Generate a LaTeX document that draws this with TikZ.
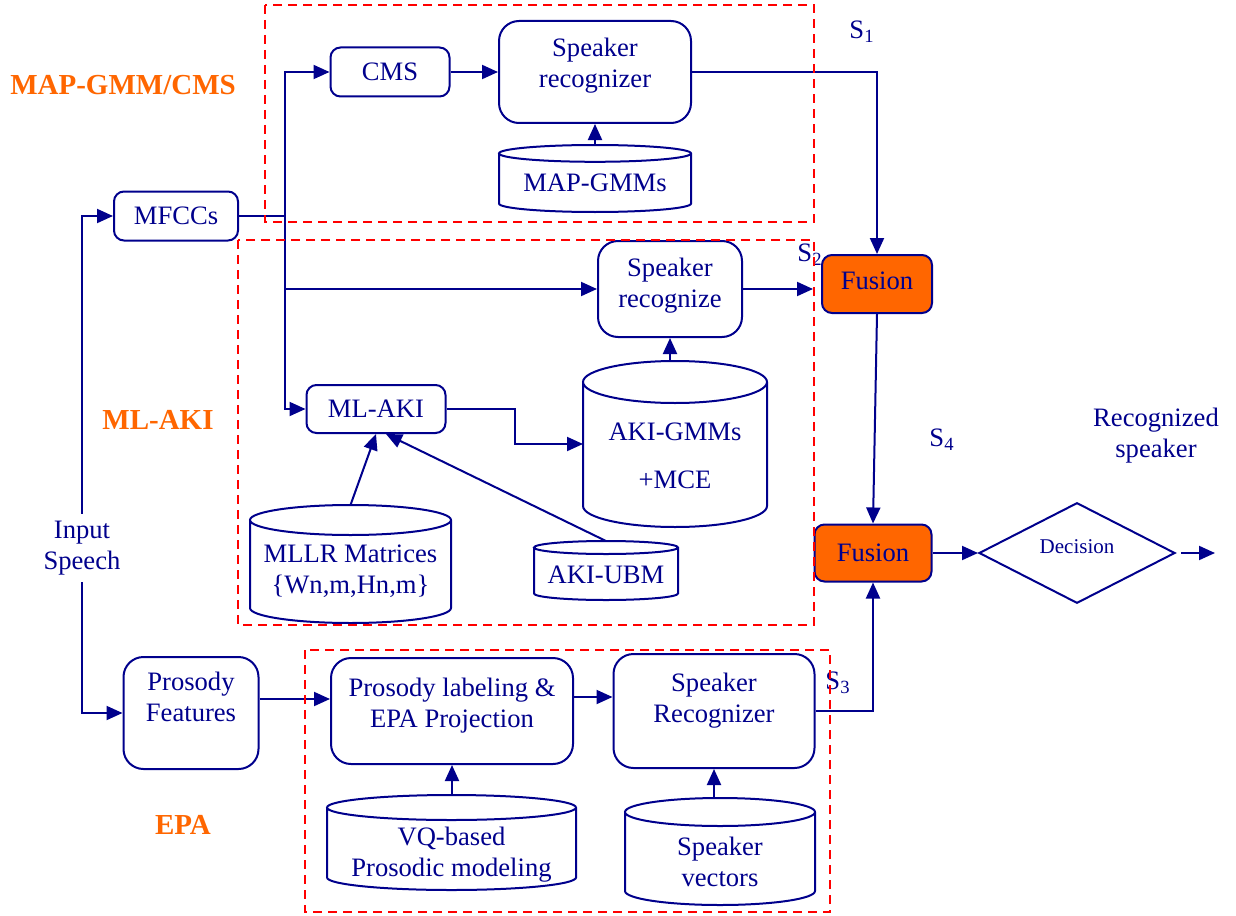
\documentclass[tikz,border=0pt]{standalone}
\usepackage{fontspec}
\setmainfont{Liberation Serif}
\usetikzlibrary{positioning,shapes.geometric,arrows.meta,calc}

\definecolor{navy}{RGB}{0,0,140}
\definecolor{fuse}{RGB}{255,102,0}

% database drum round a plain node: name, radius of the end ellipses
\newcommand{\dbshape}[2]{%
  \draw[dbline] let \p1=(#1.north west), \p2=(#1.south east) in
    (\x1,{\y1-#2}) -- (\x1,{\y2+#2})
    arc[start angle=180, end angle=360, x radius={(\x2-\x1)/2}, y radius=#2]
    -- (\x2,{\y1-#2})
    arc[start angle=0, end angle=360, x radius={(\x2-\x1)/2}, y radius=#2];}

\begin{document}
\begin{tikzpicture}[x=0.5pt,y=-0.5pt,on grid,
        >={Triangle[length=8pt,width=7pt]},
        every node/.style={text=navy,font=\fontsize{13.3}{15.5}\selectfont},
        blk/.style={draw=navy,line width=1pt,rounded corners=5pt,align=center,inner sep=0pt},
        bigblk/.style={blk,rounded corners=10pt},
        fusion/.style={blk,fill=fuse},
        db/.style={inner sep=0pt,outer sep=0pt,align=center},
        dbline/.style={draw=navy,line width=1pt},
        decide/.style={diamond,draw=navy,line width=1pt,inner sep=0pt,font=\fontsize{10.5}{12}\selectfont},
        tag/.style={text=fuse,font=\bfseries\fontsize{14.5}{17}\selectfont},
        link/.style={draw=navy,line width=1pt,->},
        grp/.style={draw=red,line width=1pt,dash pattern=on 4.5pt off 3pt}]
    \useasboundingbox (0,0) rectangle (1236,915);

    % feature extraction
    \node (inp) at (82,548) [align=center] {Input\\Speech};
    \node[blk, minimum width=62pt, minimum height=24.5pt] (mfcc) at (176,216) {MFCCs};
    \node[bigblk, minimum width=67.5pt, minimum height=56pt, text depth=15.9pt] (prosf) at (191,713) {Prosody\\Features};

    % MAP-GMM/CMS branch
    \node[blk, minimum width=59.5pt, minimum height=24.5pt] (cms) at (390,72) {CMS};
    \node[bigblk, minimum width=96pt, minimum height=51pt, text depth=8.9pt] (spk1) [right=102.5pt of cms] {Speaker\\recognizer};
    \node[db, minimum width=96pt, minimum height=33.5pt, text height=13.4pt] (mapgmm) at (595,178.5) {MAP-GMMs};

    % ML-AKI branch
    \node[bigblk, minimum width=72pt, minimum height=48pt, text depth=5.9pt] (spk2) at (670,289) {Speaker\\recognize};
    \node[blk, minimum width=69.5pt, minimum height=24pt] (mlaki) at (376,409) {ML-AKI};
    \node[db, minimum width=92pt, minimum height=83pt, text height=45pt] (akigmm) at (675,444) {AKI-GMMs\\[8.5pt]+MCE};
    \node[db, minimum width=100.5pt, minimum height=59pt, text height=31.3pt] (mllr) at (350.5,564) {MLLR Matrices\\\{Wn,m,Hn,m\}};
    \node[db, minimum width=72pt, minimum height=29.5pt, text height=13.3pt] (akiubm) at (606,570.5) {AKI-UBM};

    % EPA branch
    \node[bigblk, minimum width=121pt, minimum height=53pt, text depth=8.4pt] (plab) at (452,711) {Prosody labeling \&\\EPA Projection};
    \node[bigblk, minimum width=100.5pt, minimum height=57pt, text depth=13.4pt] (spk3) [right=131pt of plab] {Speaker\\Recognizer};
    \node[db, minimum width=124.5pt, minimum height=47.5pt, text height=37pt] (vq) at (451.5,842.5) {VQ-based\\Prosodic modeling};
    \node[db, minimum width=95pt, minimum height=53.5pt, text height=35.6pt] (spkvec) at (720,851.5) {Speaker\\vectors};

    \foreach \dbname/\dbr in {mapgmm/4.2pt, akigmm/10.5pt, mllr/7.5pt, akiubm/3.25pt, vq/6.25pt, spkvec/7pt}
        {\dbshape{\dbname}{\dbr}}

    % fusion and decision
    \node[fusion, minimum width=55pt, minimum height=29pt, text depth=3pt] (fus1) at (877,284) {Fusion};
    \node[fusion, minimum width=58.5pt, minimum height=28.5pt] (fus2) at (873,553) {Fusion};
    \node[decide, minimum width=98pt, minimum height=48pt, text depth=6pt] (dec) [right=102pt of fus2] {Decision};
    \node (recog) at (1156,436) [align=center] {Recognized\\speaker};
    \coordinate (out) at (1215,553);

    % branch names and scores
    \node[tag] (tmap) at (123,85) {MAP-GMM/CMS};
    \node[tag] (taki) at (158,420) {ML-AKI};
    \node[tag] (tepa) at (183,825) {EPA};
    \node (s1) at (862,32) {S\textsubscript{1}};
    \node (s2) at (810,255) {S\textsubscript{2}};
    \node (s3) at (838,683) {S\textsubscript{3}};
    \node (s4) at (942,440) {S\textsubscript{4}};

    \coordinate (split) at (285,216);
    \draw[link] (inp.north) |- (mfcc.west);
    \draw[link] (inp.south) |- (prosf.west);
    \draw[link] (mfcc.east) -- (split) |- (cms.west);
    \draw[link] (split) |- (spk2.west);
    \draw[link] (split) |- (mlaki.west);
    \draw[link] (cms.east) -- (cms.east -| spk1.west);
    \draw[link] (mapgmm.north -| spk1.south) -- (spk1.south);
    \draw[link] (spk1.east) -| (fus1.north);
    \draw[link, shorten >=4pt] (spk2.east) -- (spk2.east -| fus1.west);
    \draw[link] (spk2.south |- akigmm.north) -- (spk2.south);
    \draw[link] (mlaki.east) -- ++(68,0) |- (akigmm.west);
    \draw[link] (mllr.north) -- (mlaki.south);
    \draw[link] (akiubm.north) -- ([xshift=5pt]mlaki.south);
    \draw[link] (fus1.south) -- (fus2.north);
    \draw[link] (fus2.east) -- (dec.west);
    \draw[link] ([xshift=2.5pt]dec.east) -- (out);
    \draw[link] ([yshift=7pt]prosf.east) -- ([yshift=7pt]prosf.east -| plab.west);
    \draw[link] ([yshift=7pt]plab.east) -- ([yshift=7pt]plab.east -| spk3.west);
    \draw[link] (spk3.east) -| (fus2.south);
    \draw[link] (vq.north -| plab.south) -- (plab.south);
    \draw[link] (spkvec.north -| spk3.south) -- (spk3.south);

    % branch frames
    \draw[grp] (265,5) rectangle (814,222);
    \draw[grp] (238,240) rectangle (814,625);
    \draw[grp] (305,650) rectangle (830,912);
\end{tikzpicture}
\end{document}
